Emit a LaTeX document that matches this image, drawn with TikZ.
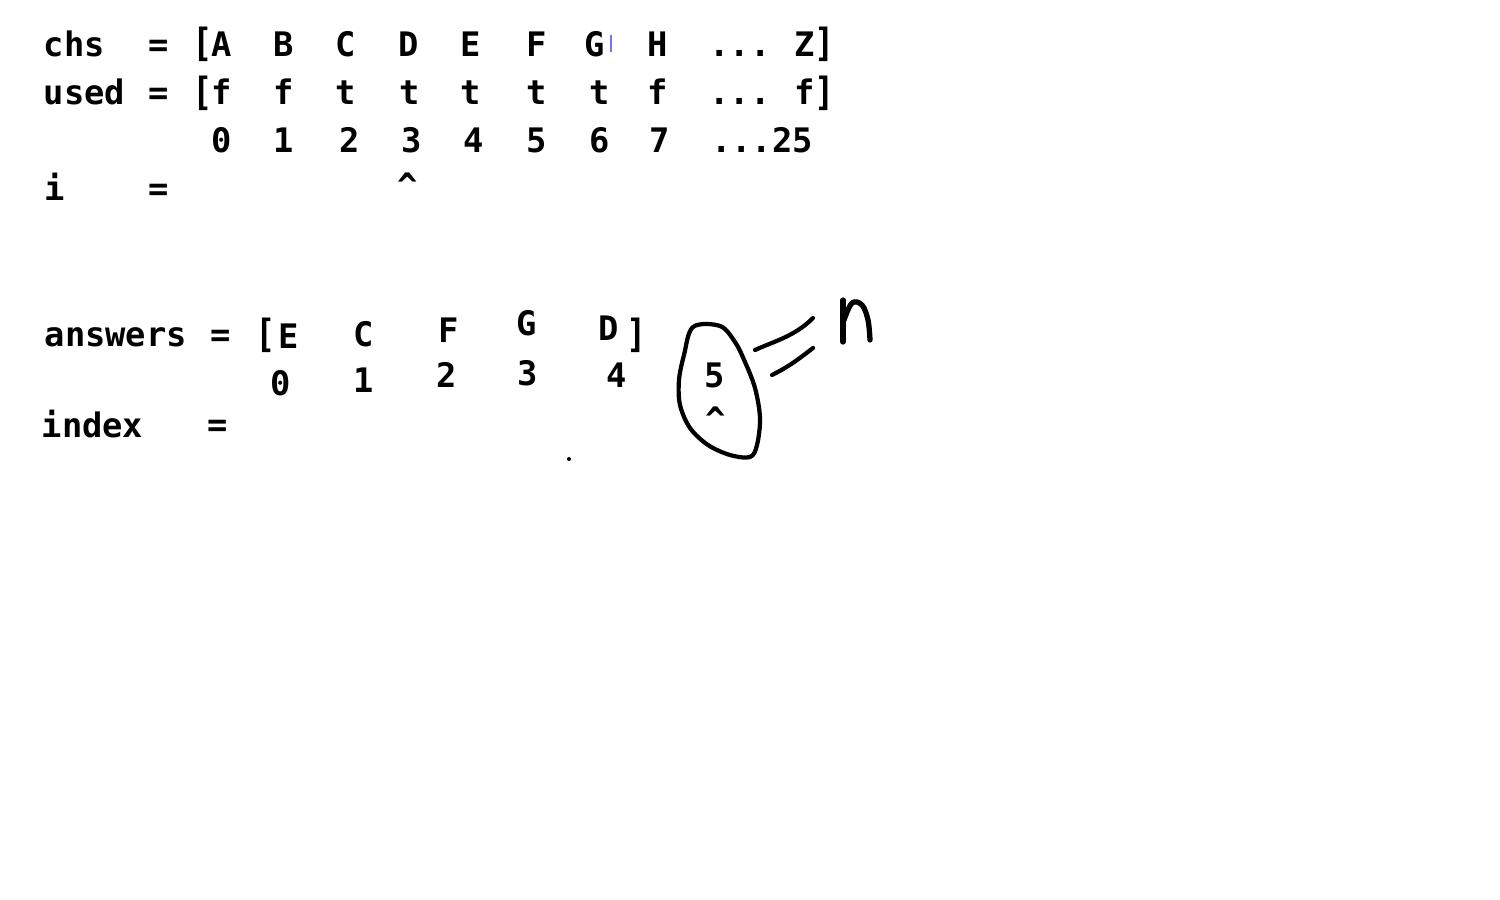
\documentclass[tikz,border=0pt]{standalone}
\usepackage{fontspec}
\setmonofont{DejaVu Sans Mono}

\tikzset{
  txt/.style={inner sep=0pt, anchor=base, font=\ttfamily\bfseries\fontsize{9.6}{11}\selectfont},
  brk/.style={txt, yscale=1.15},
  pen/.style={line width=1.2pt, line cap=round, line join=round}
}

\begin{document}
\begin{tikzpicture}[x=0.01cm, y=-0.01cm]
	\useasboundingbox (0,0) rectangle (1500,900);

	% chs / used / positions
	\node [txt, anchor=base west] (chs) at (43,56) {chs};
	\node [txt] (eqchs) at (159,56) {=};
	\node [brk] (lbchs) at (203,57) {[};
	\foreach \x/\c [count=\k] in {222/A,284/B,346/C,409/D,471/E,537/F,595/G,658/H,805/Z}
		\node [txt] (ch\k) at (\x,56) {\c};
	\node [txt] (dotchs) at (740,56) {...};
	\node [brk] (rbchs) at (825,57) {]};

	\node [txt, anchor=base west] (used) at (43,104) {used};
	\node [txt] (eqused) at (159,104) {=};
	\node [brk] (lbused) at (203,105) {[};
	\foreach \x/\c [count=\k] in {222/f,284/f,346/t,410/t,471/t,537/t,600/t,658/f,805/f}
		\node [txt] (us\k) at (\x,104) {\c};
	\node [txt] (dotused) at (740,104) {...};
	\node [brk] (rbused) at (825,105) {]};

	\foreach \x/\c [count=\k] in {222/0,284/1,350/2,412/3,474/4,537/5,600/6,660/7}
		\node [txt] (pos\k) at (\x,152) {\c};
	\node [txt] (poslast) at (762,152) {...25};

	\node [txt] (ivar) at (55,200) {i};
	\node [txt] (eqi) at (159,200) {=};
	\node [txt] (ihat) at (408,197) {\^{}};
	\draw [blue!55, line width=0.3pt] (611,35) -- (611,52);

	% answers / index
	\node [txt, anchor=base west] (answers) at (44,346) {answers};
	\node [txt] (eqans) at (221,346) {=};
	\node [brk] (lbans) at (266,347) {[};
	\node [txt] (ansE) at (289,348) {E};
	\node [txt] (ansC) at (364,346) {C};
	\node [txt] (ansF) at (449,342) {F};
	\node [txt] (ansG) at (527,335) {G};
	\node [txt] (ansD) at (609,340) {D};
	\node [brk] (rbans) at (637,347) {]};

	\node [txt] (idx0) at (281,395) {0};
	\node [txt] (idx1) at (364,392) {1};
	\node [txt] (idx2) at (447,387) {2};
	\node [txt] (idx3) at (528,385) {3};
	\node [txt] (idx4) at (617,387) {4};
	\node [txt] (idx5) at (715,387) {5};

	\node [txt, anchor=base west] (index) at (41,437) {index};
	\node [txt] (eqidx) at (218,436) {=};
	\node [txt] (idxhat) at (716,431) {\^{}};
	\fill (569,459) circle (0.2mm);

	% hand drawn ring and "= n"
	\draw [pen] plot [smooth cycle, tension=0.55] coordinates {(693,327) (720,326) (735,342) (745,362) (755,388) (760,418) (757,445) (750,457) (730,455) (708,445) (690,428) (680,405) (679,380) (684,355)};
	\draw [pen] (755,350) .. controls (775,341) and (795,336) .. (813,318);
	\draw [pen] (772,375) .. controls (790,366) and (800,358) .. (813,348);
	\draw [pen, line width=1.5pt] (843,300) -- (843,342);
	\draw [pen, line width=1.5pt] plot [smooth, tension=0.6] coordinates {(844,320) (852,303) (862,305) (868,320) (870,340)};
\end{tikzpicture}
\end{document}
